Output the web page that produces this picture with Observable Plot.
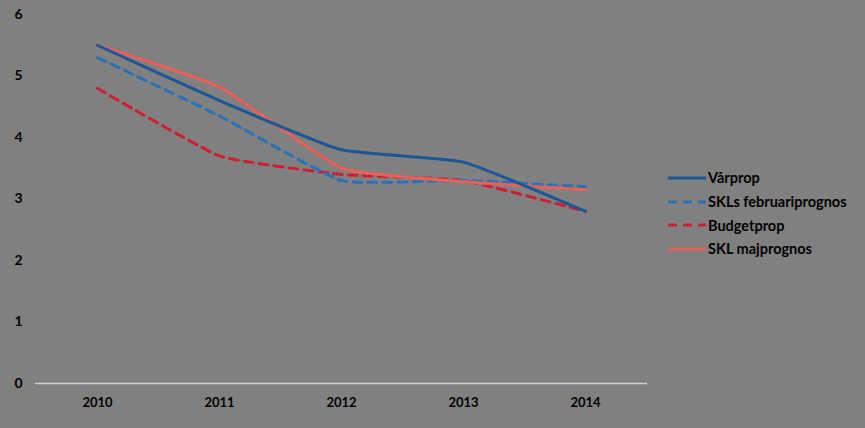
<!DOCTYPE html>
<html><head><meta charset="utf-8">
<script src="https://cdn.jsdelivr.net/npm/d3@7"></script>
<script src="https://cdn.jsdelivr.net/npm/@observablehq/plot@0.6"></script>
<style>
html,body{margin:0;padding:0;background:#808080;}
#wrap{position:relative;width:865px;height:428px;background:#808080;font-family:Lato,"Liberation Sans",sans-serif;}
#legend{position:absolute;left:668px;top:166px;}
.item{display:flex;align-items:center;height:23.7px;font-weight:bold;font-size:14.5px;color:#000;}
.item svg{margin-right:2px;}
</style></head>
<body><div id="wrap"><div id="legend"></div></div>
<script>
const years = ["2010","2011","2012","2013","2014"];
const seriesNames = ["Vårprop","SKLs februariprognos","Budgetprop","SKL majprognos"];
const varprop = [5.5, 4.6, 3.8, 3.6, 2.8];
const sklFeb = [5.3, 4.35, 3.3, 3.3, 3.2];
const budgetprop = [4.8, 3.7, 3.4, 3.3, 2.8];
const sklMaj = [5.5, 4.82, 3.5, 3.28, 3.15];
const yTicks = [0,1,2,3,4,5,6];

const styles = {
  "Vårprop": {color:"#1b5795", dash:null},
  "SKLs februariprognos": {color:"#2a72b8", dash:"9,6"},
  "Budgetprop": {color:"#cc2030", dash:"9,6"},
  "SKL majprognos": {color:"#e8605a", dash:null}
};
const valuesBySeries = [varprop, sklFeb, budgetprop, sklMaj];
const data = seriesNames.flatMap((s,i)=>years.map((y,j)=>({series:s, year:y, value:valuesBySeries[i][j]})));

const drawOrder = ["Budgetprop","SKLs februariprognos","SKL majprognos","Vårprop"];
const lineMarks = drawOrder.map(s => Plot.line(data.filter(d=>d.series===s), {
  x:"year", y:"value", stroke: styles[s].color, strokeWidth:3,
  strokeDasharray: styles[s].dash || undefined, curve:"cardinal", tension:0.6
}));

const chart = Plot.plot({
  width:865, height:428,
  marginLeft:35, marginRight:218, marginTop:14, marginBottom:45,
  style:{background:"#808080", fontFamily:"Lato, 'Liberation Sans', sans-serif"},
  x:{type:"point", domain:years, padding:0.5, label:null},
  y:{domain:[0,6], label:null},
  marks:[
    Plot.axisY(yTicks,{tickSize:0, tickPadding:13, fontSize:14, fontWeight:"bold", fill:"#000", label:null, tickFormat:"d"}),
    Plot.axisX(years,{tickSize:0, tickPadding:14, fontSize:13, fontWeight:"bold", fill:"#000", label:null}),
    Plot.ruleY([0],{stroke:"#d0d0d0", strokeWidth:1.5}),
    ...lineMarks
  ]
});
chart.style.position="absolute"; chart.style.left="0"; chart.style.top="0";
document.getElementById("wrap").prepend(chart);

const leg = document.getElementById("legend");
for (const s of seriesNames) {
  const d = document.createElement("div"); d.className="item";
  const st = styles[s];
  d.innerHTML = `<svg width="38" height="6"><line x1="0" y1="3" x2="38" y2="3" stroke="${st.color}" stroke-width="3" ${st.dash?`stroke-dasharray="${st.dash}"`:""}/></svg><span>${s}</span>`;
  leg.appendChild(d);
}
</script></body></html>
